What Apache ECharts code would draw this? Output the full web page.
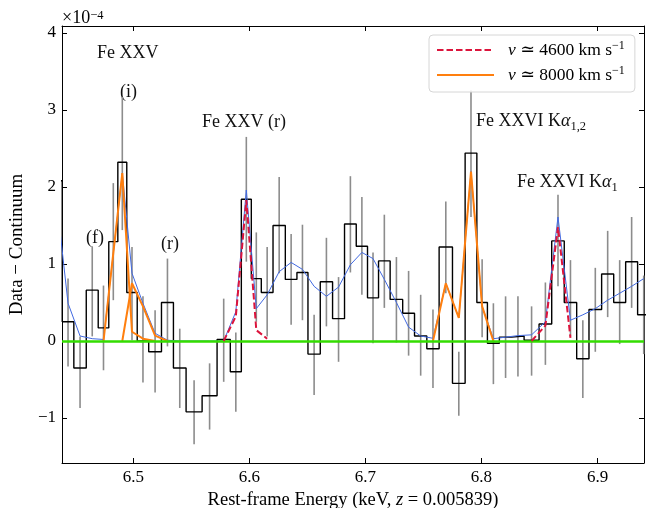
<!DOCTYPE html>
<html>
<head>
<meta charset="utf-8">
<script src="https://cdn.jsdelivr.net/npm/echarts@6/dist/echarts.min.js"></script>
<style>
  html, body { margin: 0; padding: 0; background: #fff; }
  #chart { width: 652px; height: 508px; }
</style>
</head>
<body>
<div id="chart"></div>
<script>
// rest-frame bin edges (keV); bin 0 starts left of the plotted range
var binEdges = [6.428, 6.4388, 6.4488, 6.4595, 6.4698, 6.4789, 6.4867, 6.4944, 6.5034, 6.5133,
  6.5243, 6.5346, 6.5455, 6.5593, 6.5722, 6.5836, 6.5931, 6.6017, 6.6103, 6.6204,
  6.6310, 6.6410, 6.6505, 6.6611, 6.6717, 6.6820, 6.6921, 6.7018, 6.7113, 6.7213,
  6.7321, 6.7423, 6.7529, 6.7635, 6.7750, 6.7859, 6.7960, 6.8051, 6.8154, 6.8261,
  6.8367, 6.8496, 6.8605, 6.8713, 6.8820, 6.8926, 6.9035, 6.9139, 6.9242, 6.9345, 6.9450]
// data - continuum, units of 1e-4
var binValues = [2.08, 0.25, -0.35, 0.66, 0.17, 1.29, 2.32, 0.63, 0.00, -0.14,
  0.50, -0.35, -0.92, -0.71, 0.02, -0.40, 1.84, 0.81, 0.63, 1.50,
  0.80, 0.89, -0.17, 0.77, 0.29, 1.52, 1.23, 0.56, 1.04, 0.54,
  0.36, 0.065, -0.10, 1.22, -0.55, 2.44, 0.50, -0.03, 0.05, 0.065,
  0.01, 0.22, 1.30, 0.50, -0.23, 0.41, 0.87, 0.50, 1.03, 0.34]
var errLow = [1.30, -0.33, -0.87, 0.06, -0.38, 0.53, 1.44, 0.01, -0.54, -0.67,
  -0.07, -0.87, -1.34, -1.15, -0.53, -0.92, 1.03, 0.25, 0.06, 0.88,
  0.21, 0.27, -0.70, 0.19, -0.27, 0.89, 0.60, -0.03, 0.43, -0.02,
  -0.19, -0.45, -0.61, 0.62, -0.97, 1.61, 0.05, -0.56, -0.48, -0.46,
  -0.45, -0.31, 0.71, 0.06, -0.74, -0.14, 0.31, -0.04, 0.43, -0.17]
var errHigh = [2.90, 0.81, 0.06, 1.23, 0.72, 2.05, 3.17, 1.22, 0.58, 0.40,
  1.07, 0.16, -0.51, -0.29, 0.55, 0.11, 2.65, 1.41, 1.22, 2.13,
  1.39, 1.51, 0.34, 1.34, 0.83, 2.14, 1.87, 1.15, 1.64, 1.09,
  0.91, 0.60, 0.41, 1.81, -0.14, 3.26, 1.06, 0.49, 0.58, 0.58,
  0.45, 0.76, 1.90, 1.05, 0.27, 0.95, 1.43, 1.05, 1.61, 0.85]
// full model at bin centres
var totalModel = [1.90, 0.49, 0.065, 0.03, 0.02, 1.14, 2.18, 0.88, 0.49, 0.10,
  0.01, 0.0, 0.0, 0.0, 0.0, 0.38, 1.96, 0.42, 0.60, 0.90,
  1.02, 0.93, 0.71, 0.58, 0.70, 0.99, 1.15, 1.07, 0.80, 0.50,
  0.18, 0.065, 0.035, 0.75, 0.30, 2.20, 0.45, 0.03, 0.05, 0.07,
  0.08, 0.25, 1.61, 0.27, 0.34, 0.42, 0.53, 0.62, 0.71, 0.81]
// line components: first bin index + values at following bin centres
var slowRStart = 14
var slowR = [0, 0.32, 1.83, 0.14, 0.03]
var slowKa1Start = 40
var slowKa1 = [0, 0.20, 1.48, 0.04]
var fastIStart = 4
var fastI = [0, 1.14, 2.18, 0.12, 0.03, 0]
var fastRStart = 6
var fastR = [0, 0.75, 0.45, 0.07, 0]
var fastKaStart = 32
var fastKa = [0, 0.75, 0.30, 2.20, 0.45, 0]

var xTicks = [6.5, 6.6, 6.7, 6.8, 6.9]
var yTicks = [-1, 0, 1, 2, 3, 4]
var xMin = 6.4386
var xMax = 6.94
var yMin = -1.584
var yMax = 4.09

var FONT = "'Liberation Serif', 'DejaVu Serif', serif"

var centers = binValues.map(function (v, i) { return (binEdges[i] + binEdges[i + 1]) / 2 })
var stepData = binValues.map(function (v, i) { return [binEdges[i], v] })
stepData.push([binEdges[binEdges.length - 1], binValues[binValues.length - 1]])
var errorData = centers.map(function (c, i) { return [c, errLow[i], errHigh[i]] })
var modelData = centers.map(function (c, i) { return [c, totalModel[i]] })

function component (start, vals) {
  return vals.map(function (v, k) { return [centers[start + k], v] })
}

function lineSeries (name, data, color, width, type, z) {
  return {
    name: name,
    type: 'line',
    data: data,
    symbol: 'none',
    lineStyle: { color: color, width: width, type: type },
    itemStyle: { color: color },
    z: z,
    silent: true
  }
}

var axisCommon = {
  type: 'value',
  splitLine: { show: false },
  axisLine: { show: true, onZero: false, lineStyle: { color: '#000', width: 1 } }
}

var option = {
  animation: false,
  backgroundColor: '#fff',
  grid: { left: 62, right: 8, top: 26, bottom: 45, containLabel: false, outerBoundsMode: 'none' },
  xAxis: [
    Object.assign({}, axisCommon, {
      min: xMin, max: xMax, position: 'bottom',
      axisTick: { inside: true, length: 5, customValues: xTicks, lineStyle: { color: '#000' } },
      axisLabel: { customValues: xTicks, margin: 6, fontFamily: FONT, fontSize: 17, color: '#000',
        formatter: function (v) { return v.toFixed(1) } },
      name: 'Rest-frame Energy (keV, {i|z} = 0.005839)',
      nameLocation: 'middle', nameGap: 24,
      nameTextStyle: { fontFamily: FONT, fontSize: 18.5, color: '#000',
        rich: { i: { fontFamily: FONT, fontSize: 18.5, fontStyle: 'italic', color: '#000' } } }
    }),
    Object.assign({}, axisCommon, {
      min: xMin, max: xMax, position: 'top',
      axisTick: { inside: true, length: 5, customValues: xTicks, lineStyle: { color: '#000' } },
      axisLabel: { show: false }
    })
  ],
  yAxis: [
    Object.assign({}, axisCommon, {
      min: yMin, max: yMax, position: 'left',
      axisTick: { inside: true, length: 5, customValues: yTicks, lineStyle: { color: '#000' } },
      axisLabel: { customValues: yTicks, margin: 6, fontFamily: FONT, fontSize: 17, color: '#000',
        formatter: function (v) { return v < 0 ? '\u2212' + Math.abs(v) : String(v) } },
      name: 'Data \u2212 Continuum',
      nameLocation: 'middle', nameGap: 30, nameRotate: 90,
      nameTextStyle: { fontFamily: FONT, fontSize: 19, color: '#000' }
    }),
    Object.assign({}, axisCommon, {
      min: yMin, max: yMax, position: 'right',
      axisTick: { inside: true, length: 5, customValues: yTicks, lineStyle: { color: '#000' } },
      axisLabel: { show: false }
    })
  ],
  legend: {
    data: ['4600', '8000'],
    orient: 'vertical',
    left: 429, top: 35,
    itemWidth: 57, itemHeight: 14, itemGap: 5,
    padding: [5, 10, 7, 7],
    backgroundColor: 'rgba(255,255,255,0.9)',
    borderColor: '#d6d6d6', borderWidth: 1, borderRadius: 4,
    selectedMode: false,
    itemStyle: { opacity: 0, borderWidth: 0 },
    formatter: function (name) {
      return '{i|v} \u2243 ' + name + ' km s{sup|\u22121}'
    },
    textStyle: {
      fontFamily: FONT, fontSize: 17.5, color: '#000', padding: [0, 0, 0, 9], lineHeight: 20,
      rich: {
        i: { fontFamily: FONT, fontSize: 17.5, fontStyle: 'italic', color: '#000', lineHeight: 20 },
        sup: { fontFamily: FONT, fontSize: 12, verticalAlign: 'top', color: '#000', lineHeight: 20 }
      }
    }
  },
  graphic: [
    { type: 'text', x: 62, y: 9, style: { text: '\u00d710{s|\u22124}', fontFamily: FONT, fontSize: 18, fill: '#000',
      rich: { s: { fontFamily: FONT, fontSize: 12.5, verticalAlign: 'top' } } } },
    { type: 'text', x: 97, y: 44, style: { text: 'Fe XXV', fontFamily: FONT, fontSize: 18, fill: '#111' } },
    { type: 'text', x: 120, y: 83, style: { text: '(i)', fontFamily: FONT, fontSize: 18, fill: '#111' } },
    { type: 'text', x: 86, y: 229, style: { text: '(f)', fontFamily: FONT, fontSize: 18, fill: '#111' } },
    { type: 'text', x: 161, y: 235, style: { text: '(r)', fontFamily: FONT, fontSize: 18, fill: '#111' } },
    { type: 'text', x: 202, y: 113, style: { text: 'Fe XXV (r)', fontFamily: FONT, fontSize: 18, fill: '#111' } },
    { type: 'text', x: 476, y: 109, style: { text: 'Fe XXVI K{a|\u03b1}{s|1,2}', fontFamily: FONT, fontSize: 18, fill: '#111',
      rich: { a: { fontFamily: FONT, fontSize: 18, fontStyle: 'italic', lineHeight: 24 },
        s: { fontFamily: FONT, fontSize: 12.5, verticalAlign: 'bottom', lineHeight: 24 } } } },
    { type: 'text', x: 517, y: 170, style: { text: 'Fe XXVI K{a|\u03b1}{s|1}', fontFamily: FONT, fontSize: 18, fill: '#111',
      rich: { a: { fontFamily: FONT, fontSize: 18, fontStyle: 'italic', lineHeight: 24 },
        s: { fontFamily: FONT, fontSize: 12.5, verticalAlign: 'bottom', lineHeight: 24 } } } }
  ],
  series: [
    {
      type: 'custom',
      name: 'errors',
      data: errorData,
      encode: { x: 0, y: [1, 2] },
      z: 1,
      silent: true,
      renderItem: function (params, api) {
        var x = api.value(0)
        if (x < xMin || x > xMax) return null
        var p1 = api.coord([x, api.value(1)])
        var p2 = api.coord([x, api.value(2)])
        return {
          type: 'line',
          shape: { x1: p1[0], y1: p1[1], x2: p2[0], y2: p2[1] },
          style: { stroke: '#8c8c8c', lineWidth: 1.6 }
        }
      }
    },
    Object.assign(lineSeries('data', stepData, '#000', 1.4, 'solid', 2), { step: 'end' }),
    lineSeries('model', modelData, '#4169e1', 1, 'solid', 3),
    lineSeries('8000', component(fastIStart, fastI), '#ff7f0e', 2, 'solid', 4),
    lineSeries('8000', component(fastRStart, fastR), '#ff7f0e', 2, 'solid', 4),
    lineSeries('8000', component(fastKaStart, fastKa), '#ff7f0e', 2, 'solid', 4),
    lineSeries('4600', component(slowRStart, slowR), '#dc143c', 2, [6.5, 3], 5),
    lineSeries('4600', component(slowKa1Start, slowKa1), '#dc143c', 2, [6.5, 3], 5),
    {
      type: 'line',
      name: 'zero',
      data: [],
      z: 6,
      markLine: {
        silent: true,
        symbol: 'none',
        label: { show: false },
        lineStyle: { color: '#33dd00', width: 2.5, type: 'solid' },
        data: [{ yAxis: 0 }]
      }
    }
  ]
}

var chart = echarts.init(document.getElementById('chart'))
chart.setOption(option)
</script>
</body>
</html>
